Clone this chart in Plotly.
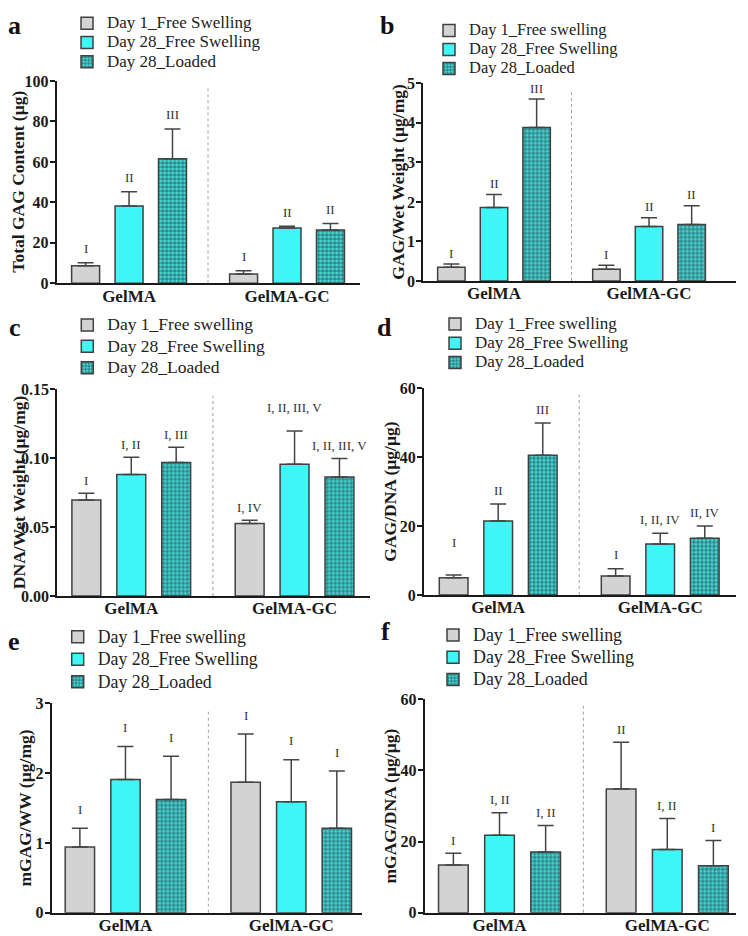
import plotly.graph_objects as go

# ---------------- data ----------------
groups = ["GelMA", "GelMA-GC"]
names_a = ["Day 1_Free Swelling", "Day 28_Free Swelling", "Day 28_Loaded"]
names_rest = ["Day 1_Free swelling", "Day 28_Free Swelling", "Day 28_Loaded"]

# panel a
a_title = "Total GAG Content (µg)"
a_ticks = [0, 20, 40, 60, 80, 100]
a_day1 = [8.7, 4.6]
a_day1_sd = [1.5, 1.6]
a_day28 = [38.2, 27.3]
a_day28_sd = [7.1, 0.9]
a_loaded = [61.6, 26.3]
a_loaded_sd = [14.7, 3.2]
a_day1_sig = ["I", "I"]
a_day28_sig = ["II", "II"]
a_loaded_sig = ["III", "II"]

# panel b
b_title = "GAG/Wet Weight (µg/mg)"
b_ticks = [0, 1, 2, 3, 4, 5]
b_day1 = [0.35, 0.30]
b_day1_sd = [0.08, 0.10]
b_day28 = [1.86, 1.38]
b_day28_sd = [0.33, 0.22]
b_loaded = [3.88, 1.43]
b_loaded_sd = [0.72, 0.47]
b_day1_sig = ["I", "I"]
b_day28_sig = ["II", "II"]
b_loaded_sig = ["III", "II"]

# panel c
c_title = "DNA/Wet Weight (µg/mg)"
c_ticks = [0.0, 0.05, 0.10, 0.15]
c_ticktext = ["0.00", "0.05", "0.10", "0.15"]
c_day1 = [0.0697, 0.0527]
c_day1_sd = [0.0048, 0.0022]
c_day28 = [0.0881, 0.0956]
c_day28_sd = [0.0126, 0.0242]
c_loaded = [0.0968, 0.0864]
c_loaded_sd = [0.0111, 0.0133]
c_day1_sig = ["I", "I, IV"]
c_day28_sig = ["I, II", "I, II, III, V"]
c_loaded_sig = ["I, III", "I, II, III, V"]

# panel d
d_title = "GAG/DNA (µg/µg)"
d_ticks = [0, 20, 40, 60]
d_day1 = [5.0, 5.5]
d_day1_sd = [0.8, 2.1]
d_day28 = [21.5, 14.8]
d_day28_sd = [4.9, 3.1]
d_loaded = [40.6, 16.5]
d_loaded_sd = [9.3, 3.5]
d_day1_sig = ["I", "I"]
d_day28_sig = ["II", "I, II, IV"]
d_loaded_sig = ["III", "II, IV"]

# panel e
e_title = "mGAG/WW (µg/mg)"
e_ticks = [0, 1, 2, 3]
e_day1 = [0.94, 1.87]
e_day1_sd = [0.27, 0.69]
e_day28 = [1.91, 1.59]
e_day28_sd = [0.47, 0.60]
e_loaded = [1.62, 1.21]
e_loaded_sd = [0.62, 0.82]
e_day1_sig = ["I", "I"]
e_day28_sig = ["I", "I"]
e_loaded_sig = ["I", "I"]

# panel f
f_title = "mGAG/DNA (µg/µg)"
f_ticks = [0, 20, 40, 60]
f_day1 = [13.4, 34.8]
f_day1_sd = [3.3, 13.1]
f_day28 = [21.8, 17.8]
f_day28_sd = [6.3, 8.7]
f_loaded = [17.1, 13.2]
f_loaded_sd = [7.4, 7.1]
f_day1_sig = ["I", "II"]
f_day28_sig = ["I, II", "I, II"]
f_loaded_sig = ["I, II", "I"]

panels = [
    dict(letter="a", title=a_title, ticks=a_ticks, ticktext=[str(t) for t in a_ticks], names=names_a,
         means=[a_day1, a_day28, a_loaded], sds=[a_day1_sd, a_day28_sd, a_loaded_sd],
         sigs=[a_day1_sig, a_day28_sig, a_loaded_sig]),
    dict(letter="b", title=b_title, ticks=b_ticks, ticktext=[str(t) for t in b_ticks], names=names_rest,
         means=[b_day1, b_day28, b_loaded], sds=[b_day1_sd, b_day28_sd, b_loaded_sd],
         sigs=[b_day1_sig, b_day28_sig, b_loaded_sig]),
    dict(letter="c", title=c_title, ticks=c_ticks, ticktext=c_ticktext, names=names_rest,
         means=[c_day1, c_day28, c_loaded], sds=[c_day1_sd, c_day28_sd, c_loaded_sd],
         sigs=[c_day1_sig, c_day28_sig, c_loaded_sig]),
    dict(letter="d", title=d_title, ticks=d_ticks, ticktext=[str(t) for t in d_ticks], names=names_rest,
         means=[d_day1, d_day28, d_loaded], sds=[d_day1_sd, d_day28_sd, d_loaded_sd],
         sigs=[d_day1_sig, d_day28_sig, d_loaded_sig]),
    dict(letter="e", title=e_title, ticks=e_ticks, ticktext=[str(t) for t in e_ticks], names=names_rest,
         means=[e_day1, e_day28, e_loaded], sds=[e_day1_sd, e_day28_sd, e_loaded_sd],
         sigs=[e_day1_sig, e_day28_sig, e_loaded_sig]),
    dict(letter="f", title=f_title, ticks=f_ticks, ticktext=[str(t) for t in f_ticks], names=names_rest,
         means=[f_day1, f_day28, f_loaded], sds=[f_day1_sd, f_day28_sd, f_loaded_sd],
         sigs=[f_day1_sig, f_day28_sig, f_loaded_sig]),
]

# ---------------- style ----------------
PAGE_W, PAGE_H = 748, 936
BODY = 8                      # default page margin around the plot div
W, H = PAGE_W - BODY, PAGE_H - BODY
FONT = "Liberation Serif"
INK = "#1a1a1a"
BARGAP = 0.175
BARGROUPGAP = 0.356
fills = ["#d3d3d3", "#3ff5f5", "#49d3d3"]
edge = "#404040"


def fx(px):
    return (px - BODY) / W


def fy(py):
    return 1 - (py - BODY) / H


# plot areas in page pixels: (x0, x1), (ytop, ybottom)
areas = [((56.7, 360), (81, 283.3)), ((423.3, 735.7), (83.3, 281)),
         ((57.3, 370), (389.3, 596)), ((424, 735.7), (388.3, 595)),
         ((51.7, 361.7), (703.3, 912.7)), ((424.7, 735.7), (699.3, 912.7))]
xranges = [[-0.458, 1.462], [-0.456, 1.559], [-0.453, 1.462],
           [-0.458, 1.466], [-0.445, 1.425], [-0.446, 1.408]]
# legend: left of text (px), first row centre (px), row spacing font, text size
legend_geo = [(107, 23.3, 12.5, 17), (469, 29.3, 10.5, 16.5), (107.3, 325, 14.1, 17.5),
              (475, 324, 12.5, 17), (97.7, 636.7, 15, 17.8), (473, 635, 14.8, 17.9)]
# panel letters: centre x, baseline y (page px)
letter_pos = [(14, 31), (386.5, 31), (15, 333), (384.5, 333), (13.5, 647), (385.5, 637)]
LETTER_SIZE = 26
# y-title centre x (page px)
title_x = [18.5, 398.5, 18.5, 390, 24.5, 389.5]
TITLE_SIZE = 17.5
sig_gap = [14, 11, 13, 14, 19, 13]
sig_extra = {(3, 0, 0): 19, (2, 1, 1): 10}

fig = go.Figure()
annotations = []
shapes = []
layout = {}

for i, p in enumerate(panels):
    n = i + 1
    xa = "x" if n == 1 else f"x{n}"
    ya = "y" if n == 1 else f"y{n}"
    lg = "legend" if n == 1 else f"legend{n}"
    (px0, px1), (pyt, pyb) = areas[i]
    lx, ly, lfs, tfs = legend_geo[i]

    for k in range(3):
        marker = dict(color=fills[k], line=dict(color=edge, width=1.5))
        if k == 2:
            marker["pattern"] = dict(shape="+", fgcolor="#1b5c5c", bgcolor=fills[2], size=4, solidity=0.35)
        fig.add_trace(go.Bar(
            x=groups, y=p["means"][k],
            name=f'<span style="font-size:{tfs}px">{p["names"][k]}</span>',
            marker=marker,
            error_y=dict(type="data", array=p["sds"][k], arrayminus=[0, 0], symmetric=False,
                         color="#444444", thickness=1.5, width=8),
            xaxis=xa, yaxis=ya, legend=lg, offsetgroup=str(k),
        ))
        slot = (1 - BARGAP) / 3
        for g in range(2):
            gap = sig_extra.get((i, k, g), 0) + sig_gap[i]
            annotations.append(dict(
                x=g + (k - 1) * slot, y=p["means"][k][g] + p["sds"][k][g],
                xref=xa, yref=ya, text=p["sigs"][k][g], showarrow=False,
                yanchor="middle", yshift=gap,
                font=dict(family=FONT, size=13, color="#333333"),
            ))

    layout[("xaxis" if n == 1 else f"xaxis{n}")] = dict(
        domain=[fx(px0), fx(px1)], anchor=ya, type="category", automargin=False,
        categoryorder="array", categoryarray=groups, range=xranges[i],
        showline=True, linewidth=2, linecolor=INK, ticks="", showgrid=False, zeroline=False,
        ticklabelstandoff=-4,
        tickfont=dict(family=FONT, size=17, color=INK, weight="bold"),
    )
    layout[("yaxis" if n == 1 else f"yaxis{n}")] = dict(
        domain=[fy(pyb), fy(pyt)], anchor=xa, automargin=False,
        range=[p["ticks"][0], p["ticks"][-1]], tickvals=p["ticks"], ticktext=p["ticktext"],
        showline=True, linewidth=2, linecolor=INK, ticks="outside", ticklen=5, tickwidth=2,
        tickcolor=INK, showgrid=False, zeroline=False, ticklabelstandoff=-2,
        tickfont=dict(family=FONT, size=16, color=INK, weight="bold"),
    )
    # y-axis title
    annotations.append(dict(
        x=fx(title_x[i]), y=0.5, xref="paper", yref=f"{ya} domain", text=p["title"],
        textangle=-90, showarrow=False, xanchor="center", yanchor="middle",
        font=dict(family=FONT, size=TITLE_SIZE, color=INK, weight="bold"),
    ))
    row_h = 1.3 * lfs + 3
    layout[lg] = dict(
        x=fx(lx - 40), y=fy(ly - row_h / 2 - 5), xanchor="left", yanchor="top",
        bgcolor="rgba(0,0,0,0)", traceorder="normal",
        font=dict(family=FONT, size=lfs, color="#222222"),
    )
    shapes.append(dict(type="line", xref=xa, yref=f"{ya} domain", x0=0.5, x1=0.5, y0=0, y1=0.97,
                       line=dict(color="#a0a0a0", width=1, dash="dot")))
    lxp, lyp = letter_pos[i]
    annotations.append(dict(x=fx(lxp), y=fy(lyp + 11), xref="paper", yref="paper",
                            text=p["letter"], showarrow=False, xanchor="center", yanchor="bottom",
                            font=dict(family=FONT, size=LETTER_SIZE, color="#111111", weight="bold")))

fig.update_layout(
    template="none",
    width=W, height=H, margin=dict(l=0, r=0, t=0, b=0, autoexpand=False),
    paper_bgcolor="white", plot_bgcolor="white",
    barmode="group", bargap=BARGAP, bargroupgap=BARGROUPGAP,
    annotations=annotations, shapes=shapes, **layout,
)

fig.write_html("out.html")
